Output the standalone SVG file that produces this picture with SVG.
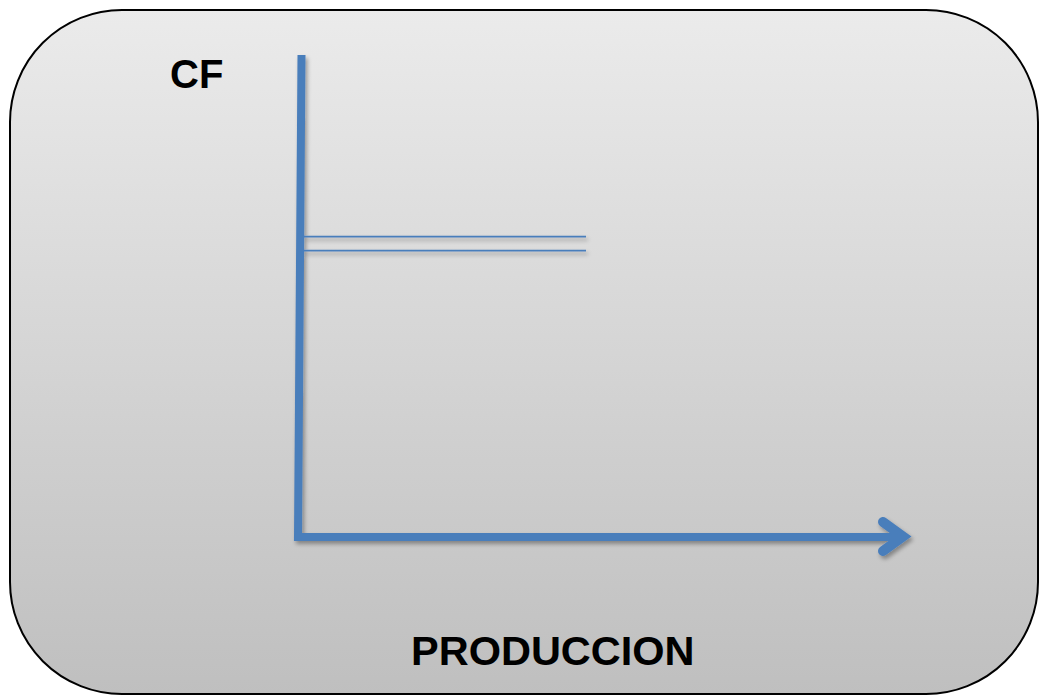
<svg xmlns="http://www.w3.org/2000/svg" width="1041" height="696" viewBox="0 0 1041 696">
<defs>
<linearGradient id="bg" x1="0" y1="0" x2="0" y2="1">
<stop offset="0" stop-color="#ebebeb"/>
<stop offset="1" stop-color="#bfbfbf"/>
</linearGradient>
<filter id="sh" x="-10%" y="-10%" width="120%" height="120%">
<feGaussianBlur in="SourceAlpha" stdDeviation="2"/>
<feOffset dx="2" dy="3" result="b"/>
<feComponentTransfer><feFuncA type="linear" slope="0.35"/></feComponentTransfer>
<feMerge><feMergeNode/><feMergeNode in="SourceGraphic"/></feMerge>
</filter>
<style>
.t{font-family:"Liberation Sans",Arial,sans-serif;font-weight:bold;fill:#000}
.ax{stroke:#4a7ebb;fill:none}
</style>
</defs>
<g id="panel">
<rect x="10" y="10" width="1028" height="684" rx="112" ry="112" fill="url(#bg)" stroke="#000" stroke-width="2"/>
</g>
<g id="connectors" filter="url(#sh)">
<path class="ax" d="M301.5 55 L298 537 L900 537" stroke-width="8" stroke-linejoin="miter"/>
<path class="ax" d="M883 522 L903 536.5 L883 551" stroke-width="10" stroke-linecap="round" stroke-linejoin="miter"/>
<line class="ax" x1="303" y1="236.7" x2="586" y2="236.7" stroke-width="1.8"/>
<line class="ax" x1="303" y1="250.7" x2="586" y2="250.7" stroke-width="1.8"/>
</g>
<g id="label-cf"><text class="t" x="170" y="88" font-size="40">CF</text></g>
<g id="label-produccion"><text class="t" x="411" y="665" font-size="41.5">PRODUCCION</text></g>
</svg>
